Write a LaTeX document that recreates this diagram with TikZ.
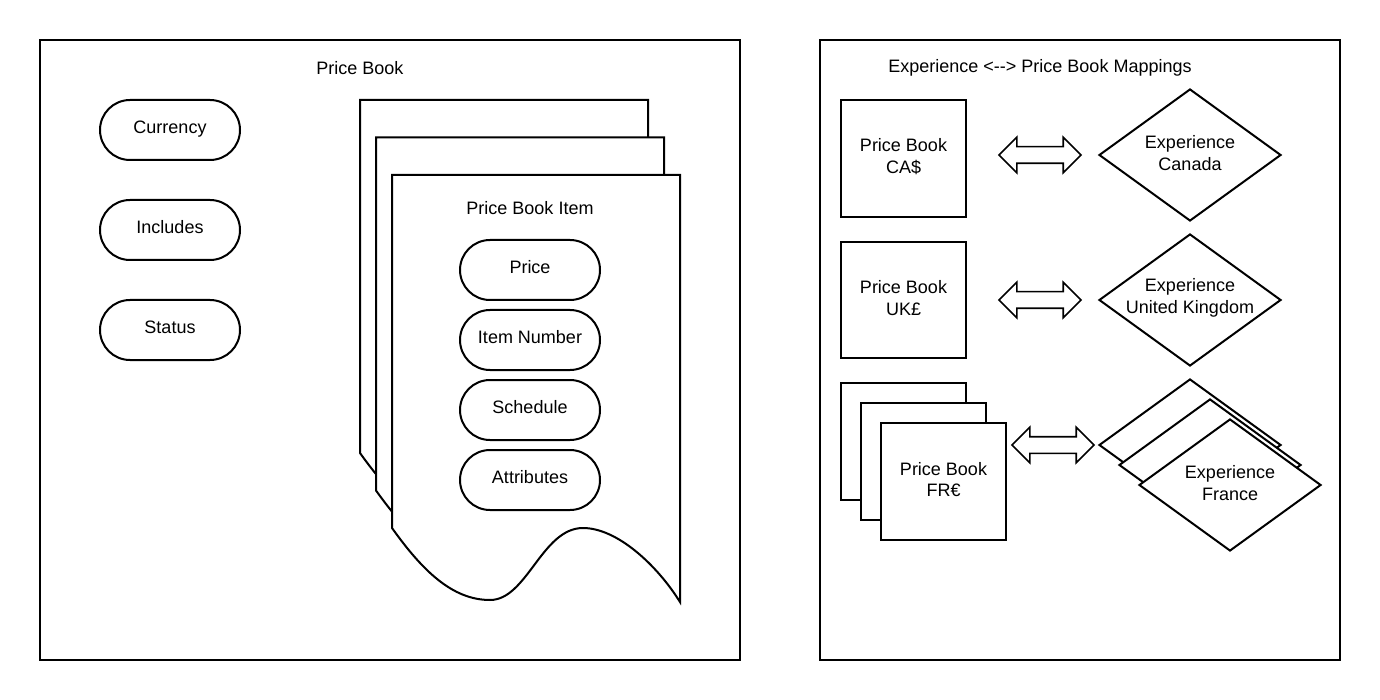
\documentclass[tikz,border=0pt]{standalone}
\usepackage{fontspec}
\setmainfont{Liberation Sans}
\usetikzlibrary{shapes.geometric,shapes.arrows}
\begin{document}
\begin{tikzpicture}[x=1pt,y=-1pt,
  every node/.style={font=\fontsize{18pt}{21.6pt}\selectfont},
  frame/.style={draw, line width=2pt, inner sep=0pt},
  pill/.style={draw, line width=2pt, rounded corners=30pt, minimum width=140pt, minimum height=60pt, inner sep=0pt, text height=13pt, text depth=6pt},
  pbox/.style={draw, fill=white, line width=2pt, minimum width=125pt, minimum height=117pt, inner sep=0pt},
  inlabel/.style={align=center, yshift=2pt},
  dia/.style={diamond, draw, fill=white, line width=2pt, minimum width=182pt, minimum height=132pt, inner sep=0pt},
  darrow/.style={double arrow, draw, fill=white, line width=1.6pt, minimum height=82pt, inner xsep=0pt, inner ysep=7.5pt, double arrow head extend=9.5pt},
  docshape/.style={draw, fill=white, line width=2pt}
]
\useasboundingbox (0,0) rectangle (1380,700);
\fill[white] (0,0) rectangle (1380,700);

% frames
\node[frame, minimum width=700pt, minimum height=620pt] (leftframe) at (390,350) {};
\node[frame, minimum width=520pt, minimum height=620pt] (rightframe) at (1080,350) {};

\node (pbtitle) at (360,68) {Price Book};
\node (maptitle) at (1040,68) {Experience <-\kern0pt-\kern0pt> Price Book Mappings};

% left pills
\node[pill] (currency) at (170,130) {Currency};
\node[pill] (includes) at (170,230) {Includes};
\node[pill] (status) at (170,330) {Status};

% document stack
\foreach \dx/\dy in {360/100, 376/137.5, 392/175} {
  \begin{scope}[shift={(\dx,\dy)}]
    \path[docshape] (0,0) -- (288,0) -- (288,427)
      .. controls (265,390) and (225,353) .. (191,353)
      .. controls (150,353) and (135,425) .. (98,425)
      .. controls (60,425) and (30,395) .. (0,353) -- cycle;
  \end{scope}
}
\node (pbitem) at (530,208) {Price Book Item};
\node[pill] (price) at (530,270) {Price};
\node[pill] (itemnum) at (530,340) {Item Number};
\node[pill] (schedule) at (530,410) {Schedule};
\node[pill] (attributes) at (530,480) {Attributes};

% right side: price books
\node[pbox, label={[inlabel]center:Price Book\\CA\$}] (pbca) at (903.5,158.5) {};
\node[pbox, minimum height=116pt, label={[inlabel]center:Price Book\\UK£}] (pbuk) at (903.5,300) {};
\node[pbox] (pbfr3) at (903.5,441.5) {};
\node[pbox] (pbfr2) at (923.5,461.5) {};
\node[pbox, label={[inlabel]center:Price Book\\FR€}] (pbfr) at (943.5,481.5) {};

% double arrows
\node[darrow] (arrca) at (1040,155) {};
\node[darrow] (arruk) at (1040,300) {};
\node[darrow] (arrfr) at (1053,445) {};

% diamonds
\node[dia, label={[inlabel]center:Experience\\Canada}] (exca) at (1190,155) {};
\node[dia, label={[inlabel]center:Experience\\United Kingdom}] (exuk) at (1190,300) {};
\node[dia] (exfr3) at (1190,445) {};
\node[dia] (exfr2) at (1210,465) {};
\node[dia, label={[inlabel]center:Experience\\France}] (exfr) at (1230,485) {};
\end{tikzpicture}
\end{document}
